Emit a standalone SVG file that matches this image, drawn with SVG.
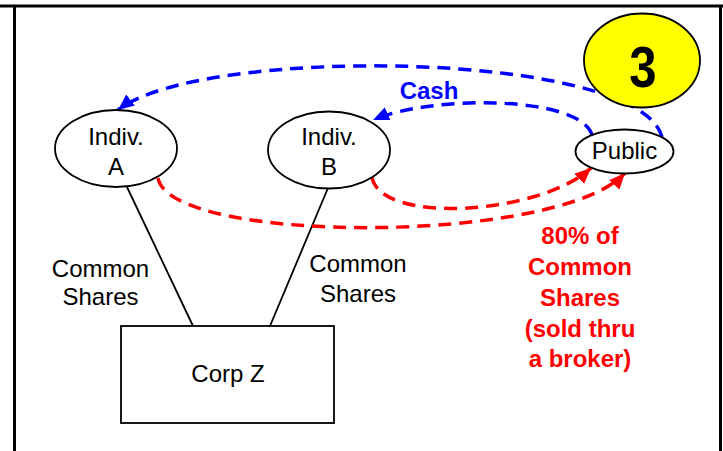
<svg xmlns="http://www.w3.org/2000/svg" width="723" height="451" viewBox="0 0 723 451">
  <style>
    .node { fill: #ffffff; stroke: #000000; stroke-width: 1.8; }
    .lbl { font-family: "Liberation Sans", Arial, sans-serif; font-size: 24px; fill: #000000; text-anchor: middle; }
    .blue { fill: none; stroke: #0000ff; stroke-width: 3.5; stroke-dasharray: 13 8; }
    .red { fill: none; stroke: #ff0000; stroke-width: 3.5; stroke-dasharray: 13 8; }
    .bl { font-family: "Liberation Sans", Arial, sans-serif; font-size: 24px; font-weight: bold; fill: #0000ff; text-anchor: middle; }
    .rl { font-family: "Liberation Sans", Arial, sans-serif; font-size: 24px; font-weight: bold; fill: #ff0000; text-anchor: middle; }
    .frame { stroke: #000000; stroke-width: 3; fill: none; }
  </style>
  <defs>
    <marker id="ab" markerUnits="userSpaceOnUse" markerWidth="18" markerHeight="16" refX="16" refY="7" orient="auto">
      <path d="M0,0 L16,7 L0,14 Z" fill="#0000ff"/>
    </marker>
    <marker id="ar" markerUnits="userSpaceOnUse" markerWidth="18" markerHeight="16" refX="16" refY="7" orient="auto">
      <path d="M0,0 L16,7 L0,14 Z" fill="#ff0000"/>
    </marker>
  </defs>
  <rect width="723" height="451" fill="#ffffff"/>
  <g id="frame">
    <line class="frame" x1="0" y1="6" x2="723" y2="6"/>
    <line class="frame" x1="14.5" y1="6" x2="14.5" y2="451"/>
    <line class="frame" x1="720.5" y1="6" x2="720.5" y2="451"/>
  </g>
  <g id="connectors">
    <line x1="127" y1="187" x2="193" y2="326" stroke="#000" stroke-width="1.8"/>
    <line x1="328" y1="188" x2="270" y2="326" stroke="#000" stroke-width="1.8"/>
    <path class="blue" d="M662,137 C640,50 200,45 118,110" marker-end="url(#ab)"/>
    <path class="blue" d="M592,135 C580,95 430,95 373,120" marker-end="url(#ab)"/>
    <path class="red" d="M372,177 C380,225 540,215 591,168" marker-end="url(#ar)"/>
    <path class="red" d="M158,178 C170,245 560,245 625,173" marker-end="url(#ar)"/>
  </g>
  <g id="badge">
    <ellipse cx="642" cy="60.5" rx="58" ry="47" fill="#ffff00" stroke="#000" stroke-width="1.8"/>
    <text transform="translate(643,86.5) scale(0.86,1)" x="0" y="0" font-family="Liberation Sans, Arial, sans-serif" font-size="57" font-weight="bold" text-anchor="middle" fill="#000">3</text>
  </g>
  <g id="indivA">
    <ellipse class="node" cx="116" cy="148.5" rx="61" ry="38.5"/>
    <text class="lbl" x="116" y="145">Indiv.</text>
    <text class="lbl" x="116" y="175">A</text>
  </g>
  <g id="indivB">
    <ellipse class="node" cx="329" cy="150" rx="61" ry="38.5"/>
    <text class="lbl" x="329" y="145">Indiv.</text>
    <text class="lbl" x="329" y="175">B</text>
  </g>
  <g id="public">
    <ellipse class="node" cx="624.5" cy="151.5" rx="49" ry="22"/>
    <text class="lbl" x="624.5" y="158.5">Public</text>
  </g>
  <g id="corpZ">
    <rect class="node" x="121" y="326" width="213" height="97"/>
    <text class="lbl" x="228" y="382">Corp Z</text>
  </g>
  <g id="labels">
    <text class="lbl" x="100.5" y="277">Common</text>
    <text class="lbl" x="100.5" y="305">Shares</text>
    <text class="lbl" x="358" y="272">Common</text>
    <text class="lbl" x="358" y="302">Shares</text>
    <text class="bl" x="429" y="99">Cash</text>
    <text class="rl" x="580" y="244">80% of</text>
    <text class="rl" x="580" y="275">Common</text>
    <text class="rl" x="580" y="306">Shares</text>
    <text class="rl" x="580" y="337">(sold thru</text>
    <text class="rl" x="580" y="367">a broker)</text>
  </g>
</svg>
